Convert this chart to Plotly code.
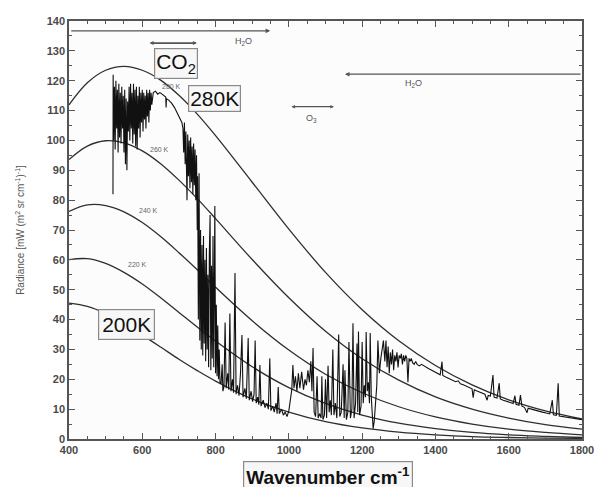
import plotly.graph_objects as go

# ---- Planck reference curves ----
planck_wn = [400, 450, 500, 550, 600, 650, 700, 750, 800, 900, 1000, 1100, 1200, 1300, 1400, 1500, 1600, 1700, 1800]
rad_280 = [111.9, 119.3, 123.5, 124.8, 123.5, 120.2, 115.1, 108.8, 101.6, 86.0, 70.3, 55.8, 43.3, 32.9, 24.6, 18.1, 13.1, 9.4, 6.7]
rad_260 = [93.6, 98.1, 99.9, 99.2, 96.5, 92.2, 86.7, 80.5, 73.8, 60.1, 47.3, 36.1, 26.9, 19.7, 14.1, 10.0, 7.0, 4.8, 3.3]
rad_240 = [76.2, 78.4, 78.2, 76.1, 72.5, 67.8, 62.4, 56.7, 50.8, 39.6, 29.8, 21.7, 15.5, 10.8, 7.4, 5.0, 3.3, 2.2, 1.4]
rad_220 = [60.1, 60.4, 58.8, 55.8, 51.9, 47.3, 42.4, 37.5, 32.8, 24.2, 17.2, 11.9, 8.0, 5.3, 3.5, 2.2, 1.4, 0.9, 0.5]
rad_200 = [45.5, 44.4, 42.0, 38.6, 34.8, 30.8, 26.7, 22.9, 19.4, 13.4, 9.0, 5.8, 3.7, 2.3, 1.4, 0.8, 0.5, 0.3, 0.2]

# ---- measured spectrum, segment by segment ----
seg_a_wn = [520, 520.5] + list(range(522, 627, 2))
seg_a_rad = [82, 122,
             100, 118, 97, 120, 104, 117, 96, 119, 101, 116,
             99, 118, 104, 115, 96, 117, 92, 114, 90, 113,
             103, 118, 100, 119, 104, 116, 99, 119, 102, 117,
             98, 118, 97, 115, 104, 118, 101, 116, 106, 117,
             103, 116, 107, 115, 104, 117, 108, 116, 106, 117,
             110, 116, 112]
seg_b_wn = [630, 636, 642, 648, 654, 660, 664, 665, 666, 672, 680, 688, 696, 702, 708]
seg_b_rad = [116, 116.5, 115.5, 116, 115.5, 115, 114.5, 111, 114, 113.5, 112.5, 111, 109, 107.5, 106]
seg_c_wn = [711, 713, 715, 717, 719, 721, 722, 724, 726, 728, 730, 732, 734, 736, 738, 740, 742, 744, 746, 748]
seg_c_rad = [104, 96, 106, 92, 103, 85, 80, 102, 88, 100, 84, 101, 86, 98, 82, 99, 85, 97, 80, 95]
seg_d_wn = [750, 751, 753, 755, 757, 759, 761, 763, 765, 767,
            769, 771, 773, 775, 777, 779, 781, 783, 785, 787,
            789, 791, 793, 795, 797, 798, 800, 802, 804, 806,
            808, 810, 812]
seg_d_rad = [70, 88, 40, 89, 33, 70, 30, 65, 28, 68,
             32, 60, 26, 64, 30, 55, 24, 62, 75, 23,
             58, 27, 68, 24, 55, 78, 22, 45, 21, 38,
             20, 30, 19]
seg_e_wn = [815, 818, 820, 823, 826, 829, 833, 836, 839, 842,
            846, 849, 853, 856, 860, 864, 868, 872, 875, 880,
            884, 889, 892, 897, 901, 905, 908, 911, 915, 918,
            921, 924, 930, 935, 940, 944, 948, 951, 956, 960,
            965, 968, 971, 974, 980, 985, 990, 995, 1000]
seg_e_rad = [18.5, 25, 16, 17.5, 39, 17, 22, 16.5, 42, 16,
             20, 15.5, 55.6, 15, 18, 14.5, 22, 34.8, 14, 17,
             13.5, 33.8, 13, 16, 12.5, 15, 33, 12, 14, 11.5,
             24.8, 11, 13, 10.5, 12, 10, 27, 9.5, 11, 9,
             12, 8.5, 17.4, 8.5, 10, 8, 9, 7.5, 9.5]
seg_f_wn = [1004, 1008, 1011, 1014, 1018, 1022, 1026, 1030, 1035, 1040,
            1044, 1048, 1052, 1056, 1060, 1063, 1066, 1069, 1073, 1077,
            1080, 1084, 1088, 1090, 1093, 1097, 1100]
seg_f_rad = [13, 16.5, 24.8, 17, 21, 16, 22, 17, 22.5, 16.5,
             20, 18, 23, 19, 26, 16, 30.5, 9, 7.5, 21,
             7, 8.5, 7, 21, 6.5, 8, 20]
seg_g_wn = [1103, 1107, 1110, 1113, 1116, 1120, 1123, 1127, 1131, 1136,
            1139, 1143, 1148, 1151, 1153, 1157, 1161, 1164, 1168, 1172,
            1175, 1178, 1182, 1186, 1188, 1190, 1193, 1197, 1200, 1203,
            1206, 1209, 1211, 1214, 1217, 1220, 1222, 1225, 1228, 1230,
            1233, 1237, 1240, 1243, 1247, 1251, 1255, 1258]
seg_g_rad = [7, 24.5, 9, 13, 8, 30, 8, 12, 7, 35,
             7.5, 9, 25, 7, 23, 6.5, 9, 32.5, 7, 10,
             38.8, 7, 12, 32, 9, 36, 8, 11, 32.5, 12,
             18, 14, 35.8, 16, 19, 12, 35.5, 14, 8, 3.5,
             6, 12, 18, 33, 22, 27, 31, 33]
seg_h_wn = list(range(1262, 1335, 3)) + [1338, 1342, 1346]
seg_h_rad = [26, 33, 24, 31, 22, 29, 25, 30, 23, 28,
             26, 29, 24, 28, 27, 28.5, 25, 28, 26, 28,
             27, 19, 27, 26, 27, 25.5, 25, 26]
seg_i_wn = [1350, 1356, 1362, 1368, 1375, 1382, 1390, 1398, 1406, 1413,
            1418, 1420, 1428, 1436, 1445, 1455, 1462, 1468, 1476, 1485,
            1494, 1500, 1503, 1506, 1515, 1525, 1535, 1541, 1544, 1550,
            1557, 1560, 1568, 1574, 1577, 1585, 1595, 1605, 1612, 1617,
            1620, 1628, 1632, 1636, 1643, 1650, 1653, 1662, 1672, 1682,
            1692, 1702, 1712, 1719, 1722, 1730, 1735, 1738, 1748, 1758,
            1768, 1778, 1788, 1795, 1800]
seg_i_rad = [25, 24.5, 25, 24.5, 24, 23.5, 23, 22.5, 22, 21.5,
             25.9, 21.3, 20.8, 20.3, 19.8, 19.2, 19.5, 18.5, 18.2, 17.6,
             17.1, 16.8, 13.8, 16.5, 16, 15.5, 15, 13, 14.6, 14.4,
             21.4, 14, 13.7, 18.7, 13.4, 13, 12.6, 12.2, 11.9, 14.5,
             11.6, 11.3, 14.7, 11, 10.6, 8.8, 10.3, 10, 9.6, 9.3,
             9, 8.7, 8.4, 13, 8.1, 7.9, 18.7, 7.7, 7.5, 7.2,
             7, 6.8, 6.6, 6.4, 6.5]

segments = [(seg_a_wn, seg_a_rad), (seg_b_wn, seg_b_rad), (seg_c_wn, seg_c_rad),
            (seg_d_wn, seg_d_rad), (seg_e_wn, seg_e_rad), (seg_f_wn, seg_f_rad),
            (seg_g_wn, seg_g_rad), (seg_h_wn, seg_h_rad), (seg_i_wn, seg_i_rad)]
spec_wn, spec_rad = [], []
for w, r in segments:
    n = min(len(w), len(r))
    spec_wn += list(w[:n])
    spec_rad += list(r[:n])

AX = "#555555"
CURVE = "#2e2e2e"

fig = go.Figure()
for rad in [rad_280, rad_260, rad_240, rad_220, rad_200]:
    fig.add_trace(go.Scatter(x=planck_wn, y=rad, mode="lines",
                             line=dict(color=CURVE, width=1.3, shape="spline", smoothing=1.0),
                             hoverinfo="skip", showlegend=False))
fig.add_trace(go.Scatter(x=spec_wn, y=spec_rad, mode="lines",
                         line=dict(color="#111111", width=1.1),
                         showlegend=False))

ann = []
small = dict(size=7, color="#666666", family="Liberation Sans")
# small in-plot temperature labels
ann += [
    dict(x=681, y=118, text="280 K", showarrow=False, font=small),
    dict(x=648, y=97, text="260 K", showarrow=False, font=small),
    dict(x=618, y=76.7, text="240 K", showarrow=False, font=small),
    dict(x=588, y=58.3, text="220 K", showarrow=False, font=small),
    dict(x=560, y=42.5, text="200 K", showarrow=False, font=small),
]
band = dict(size=9, color="#555555", family="Liberation Sans")
# absorption band markers
ann += [
    dict(x=949, y=136.7, ax=402, ay=136.7, axref="x", ayref="y", text="",
         showarrow=True, arrowhead=2, arrowsize=0.7, arrowwidth=1.3, arrowcolor="#555555"),
    dict(x=875, y=133, text="H<sub>2</sub>O", showarrow=False, font=band),
    dict(x=749, y=132.6, ax=616, ay=132.6, axref="x", ayref="y", text="",
         showarrow=True, arrowhead=2, startarrowhead=2, arrowside="end+start",
         arrowsize=0.5, arrowwidth=1.6, arrowcolor="#555555"),
    dict(x=1123, y=111.3, ax=1003, ay=111.3, axref="x", ayref="y", text="",
         showarrow=True, arrowhead=2, startarrowhead=2, arrowside="end+start",
         arrowsize=0.6, arrowwidth=1.2, arrowcolor="#555555"),
    dict(x=1063, y=107.5, text="O<sub>3</sub>", showarrow=False, font=band),
    dict(x=1153, y=122.2, ax=1800, ay=122.2, axref="x", ayref="y", text="",
         showarrow=True, arrowhead=2, arrowsize=0.7, arrowwidth=1.3, arrowcolor="#555555"),
    dict(x=1339, y=119.2, text="H<sub>2</sub>O", showarrow=False, font=band),
]
box = dict(size=21, color="#111111", family="Liberation Sans")
boxstyle = dict(showarrow=False, bgcolor="#f7f7f7", bordercolor="#8a8a8a", borderwidth=1.2)
ann += [
    dict(x=692, y=125.8, text="CO<sub>2</sub>", font=box, borderpad=1, **boxstyle),
    dict(x=798, y=113.9, text="280K", font=box, borderpad=1, **boxstyle),
    dict(x=557, y=38.2, text="200K", font=box, borderpad=3, **boxstyle),
    dict(x=0.505, y=-0.088, xref="paper", yref="paper", xanchor="center", yanchor="middle",
         text="<b>Wavenumber cm<sup>-1</sup></b>",
         font=dict(size=19, color="#111111", family="Liberation Sans"),
         borderpad=2, **boxstyle),
]

tickfont = dict(size=11, color="#4a4a4a", family="Liberation Sans", weight="bold")
axis_common = dict(showline=True, linecolor=AX, linewidth=1.5, mirror="ticks",
                   ticks="inside", ticklen=6, tickwidth=1.3, tickcolor=AX,
                   showgrid=False, zeroline=False, tickfont=tickfont, automargin=False)
fig.update_layout(
    width=595, height=487,
    margin=dict(l=69, r=13, t=21, b=48),
    paper_bgcolor="white", plot_bgcolor="#fcfcfc",
    annotations=ann,
    xaxis=dict(range=[400, 1800], tickvals=[400, 600, 800, 1000, 1200, 1400, 1600, 1800],
               minor=dict(ticks="inside", ticklen=3, dtick=50, tickcolor=AX, tickwidth=1.1),
               **axis_common),
    yaxis=dict(range=[0, 140], dtick=10,
               minor=dict(ticks="inside", ticklen=3, dtick=5, tickcolor=AX, tickwidth=1.1),
               title=dict(text="Radiance [mW (m<sup>2</sup> sr cm<sup>-1</sup>)<sup>-1</sup>]",
                          font=dict(size=10, color="#555555", family="Liberation Sans"),
                          standoff=20),
               **axis_common),
)
fig.write_html("out.html", config={"displayModeBar": False},
               post_script="document.body.style.margin='0';document.body.style.overflow='hidden';")
